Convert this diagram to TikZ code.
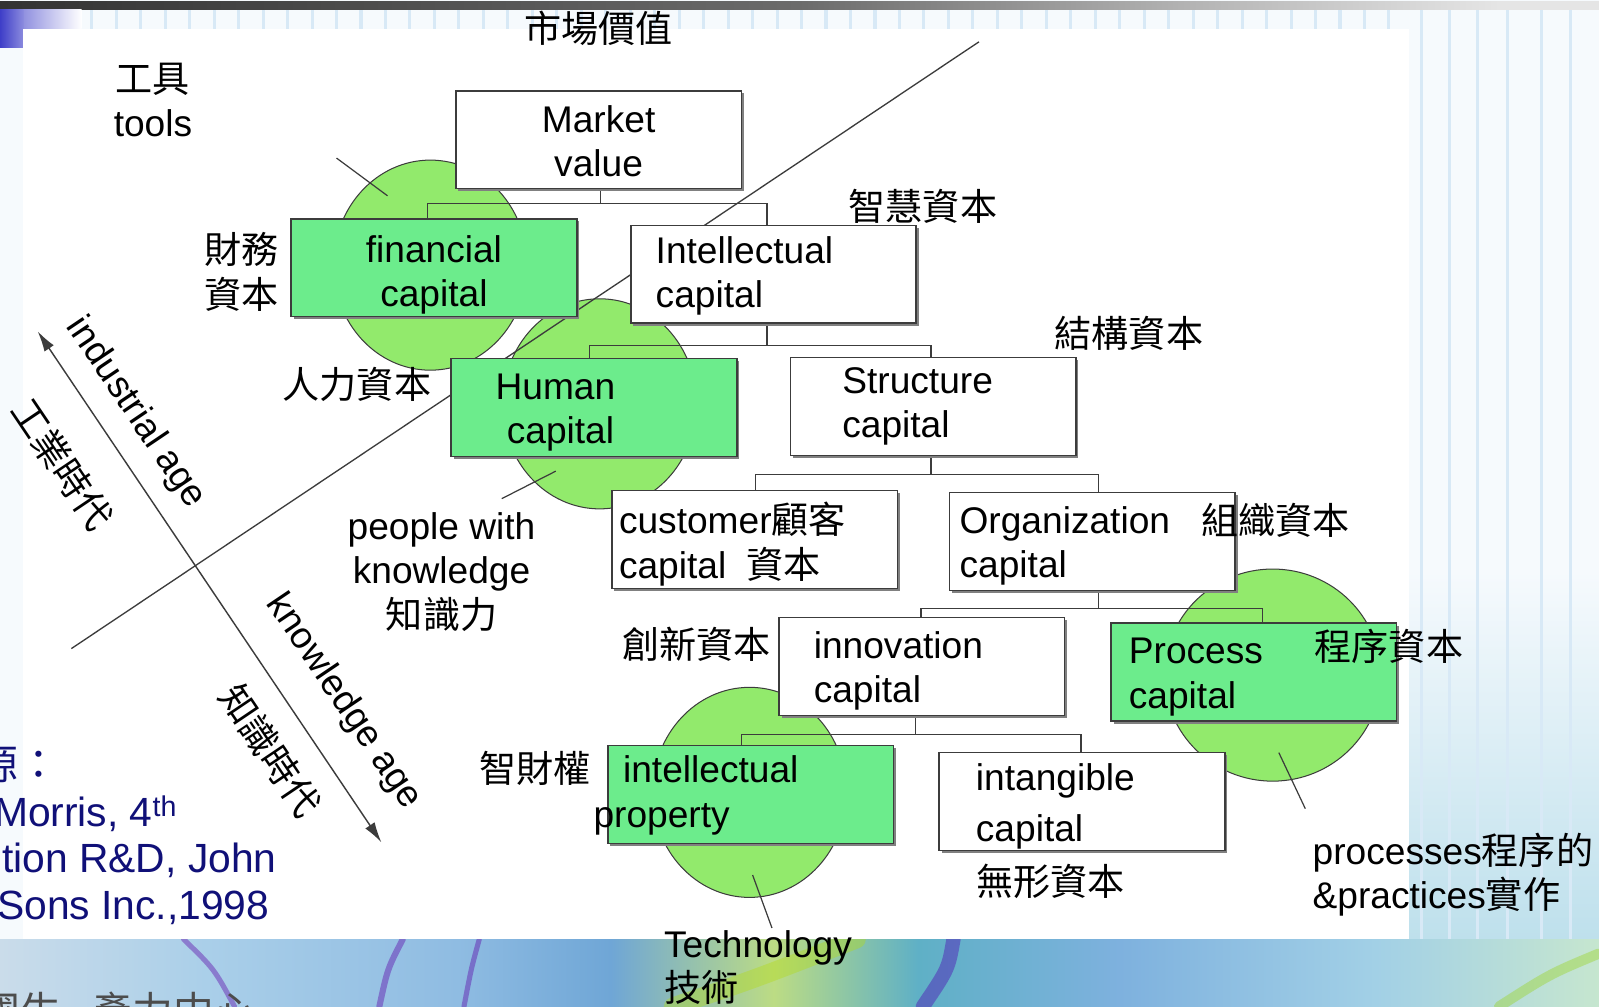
\documentclass[tikz,border=0pt]{standalone}
\usepackage{fontspec}
\setmainfont{Liberation Sans}
\newfontfamily\cjk{Noto Sans CJK TC}
\usepackage{xcolor}
\usetikzlibrary{positioning}
\usetikzlibrary{calc}
\usetikzlibrary{arrows.meta}
\usetikzlibrary{shadows}
\usetikzlibrary{shapes.geometric}
\usetikzlibrary{backgrounds}
\pgfdeclarelayer{slide}
\pgfdeclarelayer{background}
\pgfsetlayers{slide,background,main}
\definecolor{boxgreen}{RGB}{108, 236, 140}
\definecolor{blobgreen}{RGB}{146, 234, 108}
\definecolor{edgegray}{RGB}{60, 60, 60}
\definecolor{sourcenavy}{RGB}{16, 16, 120}
\definecolor{stripeblue}{RGB}{216, 233, 246}
\definecolor{slidepale}{RGB}{246, 250, 253}
\definecolor{barblue}{RGB}{62, 62, 200}
\definecolor{rightfloor}{RGB}{190, 224, 236}
\definecolor{floor0}{RGB}{202, 220, 234}
\definecolor{floor1}{RGB}{170, 207, 233}
\definecolor{floor2}{RGB}{143, 188, 226}
\definecolor{floor3}{RGB}{111, 166, 214}
\definecolor{floor4}{RGB}{188, 220, 132}
\definecolor{floor5}{RGB}{95, 176, 198}
\definecolor{floor6}{RGB}{126, 177, 222}
\definecolor{floor7}{RGB}{162, 208, 230}
\definecolor{floor8}{RGB}{198, 230, 207}
\pgfdeclarehorizontalshading{topbar}{100bp}{color(0bp)=(black!80); color(25bp)=(black!80); color(50bp)=(black!58); color(62bp)=(black!30); color(72bp)=(black!10); color(100bp)=(black!10)}
\pgfdeclarehorizontalshading{slidefloor}{100bp}{color(0bp)=(floor0); color(25bp)=(floor0); color(31.4bp)=(floor1); color(39.3bp)=(floor2); color(44.1bp)=(floor3); color(49.2bp)=(floor4); color(53.7bp)=(floor5); color(60bp)=(floor6); color(68bp)=(floor7); color(75bp)=(floor8); color(100bp)=(floor8)}
\newcommand{\lab}{\fontsize{36.4}{43.5}\selectfont}
\newcommand{\srcfont}{\fontsize{40}{46}\selectfont}
\newcommand{\zh}[1]{{\cjk #1}}
\tikzstyle{capbox} = [
    draw=edgegray,
    line width=1.6pt,
    minimum width=280pt,
    minimum height=96pt,
    inner sep=0pt,
    align=left,
    font=\lab,
    drop shadow={shadow xshift=2.5pt, shadow yshift=-2.5pt, fill=black!50, opacity=1}
]
\tikzstyle{wbox} = [capbox, fill=white]
\tikzstyle{gbox} = [capbox, fill=boxgreen]
\tikzset{firstline/.style={execute at begin node={\rule{0pt}{#1}}}}
\tikzstyle{blob} = [ellipse, draw=edgegray, line width=1pt, fill=blobgreen, inner sep=0pt, minimum width=190pt, minimum height=206pt]
\tikzstyle{txt} = [font=\lab, inner sep=0pt]
\tikzstyle{zh} = [font=\lab\cjk, inner sep=0pt]
\tikzstyle{source} = [font=\srcfont, text=sourcenavy, inner sep=0pt]
\tikzstyle{tree} = [edgegray, line width=1.4pt]
\tikzstyle{divide} = [edgegray, line width=1.3pt]
\tikzstyle{pointer} = [edgegray, line width=1.2pt]
\tikzstyle{age} = [{Latex[length=20pt, width=11pt]}-{Latex[length=20pt, width=11pt]}, line width=1.4pt, edgegray]
\tikzstyle{swoosh} = [line cap=round, opacity=0.4]

\begin{document}
\begin{tikzpicture}[x=1pt, y=-1pt]
	\useasboundingbox (0,0) rectangle (1568,987);

	%
	% Slide behind the diagram
	\begin{pgfonlayer}{slide}
		\fill[slidepale] (0,0) rectangle (1568,987);
		\shade[top color=slidepale, bottom color=rightfloor] (1382,560) rectangle (1568,921);
		\foreach \x in {1394,1421,1449,1478,1512,1540} {
			\draw[stripeblue, line width=3pt] (\x,9) -- (\x,921);
		}
		\foreach \x in {90,114,...,1380} {
			\draw[stripeblue, line width=3pt] (\x,9) -- (\x,28);
		}
		\shade[shading=slidefloor] (0,921) rectangle (1568,987);
		\draw[swoosh, line width=5pt, violet!70!blue] (230,987) .. controls (210,950) .. (180,921);
		\draw[swoosh, line width=6pt, violet!70!blue] (372,987) .. controls (380,950) .. (395,921);
		\draw[swoosh, line width=5pt, violet!70!blue] (455,987) .. controls (462,950) .. (470,921);
		\draw[swoosh, line width=18pt, yellow!70!green] (660,987) .. controls (740,960) .. (840,921);
		\draw[swoosh, line width=14pt, violet!60!blue] (905,987) .. controls (930,950) .. (935,921);
		\draw[swoosh, line width=10pt, yellow!60!green] (1470,987) .. controls (1520,955) .. (1568,935);
		\shade[shading=topbar] (0,1.5) rectangle (1568,9);
		\shade[left color=barblue!80, right color=white] (0,9) rectangle (80,28);
		\shade[left color=barblue, right color=barblue!60] (0,9) rectangle (23,47);

		% white panel
		\fill[white] (23,28) rectangle (1382,921);

		% green blobs
		\node[blob] (finblob) at (422,260) {};
		\node[blob] (humblob) at (588,396) {};
		\node[blob, minimum width=212pt, minimum height=208pt] (problob) at (1248,662) {};
		\node[blob] (ipblob) at (735,777) {};
	\end{pgfonlayer}

	%
	% Capital boxes
	\node[wbox, firstline=29.5pt, text width=200pt, align=center] (market) at (587,137) {Market\\value};
	\node[gbox, firstline=40pt, text width=200pt, align=center] (financial) at (425.5,262.5) {financial\\capital};
	\node[wbox, firstline=29.5pt, text width=231pt] (intellectual) at (758.5,269) {Intellectual\\capital};
	\node[gbox, firstline=35pt, text width=193pt] (human) at (582.5,399.5) {Human\\\hspace*{11pt}capital};
	\node[wbox, text width=178pt] (structure) at (915,398.5) {Structure\\capital};
	\node[wbox, firstline=40pt, text width=266pt] (customer) at (740,529) {customer\zh{顧客}\\capital\hspace{20pt}\zh{資本}};
	\node[wbox, firstline=35.5pt, text width=260pt] (organization) at (1071,531) {Organization\\capital};
	\node[wbox, firstline=35pt, text width=212pt] (innovation) at (904,653.5) {innovation\\capital};
	\node[gbox, firstline=35pt, text width=245pt] (process) at (1229.5,659) {Process\\capital};
	\node[gbox, firstline=28.5pt, text width=250pt] (ip) at (736,779) {intellectual\\\hspace*{-29pt}property};
	\node[wbox, firstline=35.5pt, text width=208pt] (intangible) at (1061,786) {intangible\\[6pt]capital};

	%
	% Labels
	\node[zh, above=43pt of market] (market-zh) {市場價值};
	\node[zh, left=11pt of financial, yshift=-4pt, align=center] (financial-zh) {財務\\資本};
	\node[txt, align=center] (tools) at (150,98) {\zh{工具}\\tools};
	\node[zh] (intellectual-zh) at (905,202) {智慧資本};
	\node[zh] (human-zh) at (350,377) {人力資本};
	\node[zh] (structure-zh) at (1107,327) {結構資本};
	\node[txt, align=center] (people) at (433,561) {people with\\knowledge\\\zh{知識力}};
	\node[zh] (organization-zh) at (1251,510) {組織資本};
	\node[zh] (innovation-zh) at (683,632) {創新資本};
	\node[zh] (process-zh) at (1362,634) {程序資本};
	\node[zh] (ip-zh) at (525,753) {智財權};
	\node[zh] (intangible-zh) at (1030,864) {無形資本};
	\node[txt, align=left, anchor=west] (practices) at (1287,858) {processes\zh{程序的}\\\&practices\zh{實作}};
	\node[txt, align=left, anchor=west] (technology) at (651,949) {Technology\\\zh{技術}};

	% Age remarks
	\node[txt, rotate=-56] (industrial-lab) at (133,405) {industrial age};
	\node[zh, rotate=-56] (industrial-zh) at (61,455) {工業時代};
	\node[txt, rotate=-56] (knowledge-lab) at (337,688) {knowledge age};
	\node[zh, rotate=-56] (knowledge-zh) at (265,736) {知識時代};

	% Source remark
	\node[source, anchor=west, align=left] (source) at (-22,819) {\zh{源：}\\\hspace*{16pt}Morris, 4\textsuperscript{th}\\\hspace*{24pt}tion R\&D, John\\\hspace*{19pt}Sons Inc.,1998};
	\node[font=\srcfont\cjk, text=black!70, anchor=west, inner sep=0pt] (centre-zh) at (-20,991) {國生\hspace{30pt}產力中心};

	%
	% Lines
	\coordinate (divide-top) at (960,41);
	\coordinate (divide-bottom) at (70,636);
	\coordinate (industrial-end) at (37,325);
	\coordinate (knowledge-end) at (374,826);
	\coordinate (tools-from) at (330,155);
	\coordinate (tools-to) at (380,192);
	\coordinate (people-from) at (545,462);
	\coordinate (people-to) at (492,489);
	\coordinate (technology-from) at (738,858);
	\coordinate (technology-to) at (757,910);
	\coordinate (practices-from) at (1254,738);
	\coordinate (practices-to) at (1280,793);

	\begin{scope}[on background layer]
		\draw[divide] (divide-bottom) -- (divide-top);
		\draw[age] (industrial-end) -- (knowledge-end);
		\draw[pointer] (tools-from) -- (tools-to);
		\draw[pointer] (people-from) -- (people-to);
		\draw[pointer] (technology-from) -- (technology-to);
		\draw[pointer] (practices-from) -- (practices-to);

		% Tree
		\draw[tree] ([xshift=2pt]market.south) --++ (0,-14pt);
		\draw[tree] ([xshift=-6.5pt]financial.north) |- ([yshift=-14pt]market.south) -| ([xshift=-6.5pt]intellectual.north);
		\draw[tree] ([xshift=-6.5pt]intellectual.south) --++ (0,-21pt);
		\draw[tree] ([xshift=-4.5pt]human.north) |- ([yshift=-21pt]intellectual.south) -| ([xshift=-2pt]structure.north);
		\draw[tree] ([xshift=-2pt]structure.south) --++ (0,-18pt);
		\draw[tree] ([xshift=1pt]customer.north) |- ([yshift=-18pt]structure.south) -| ([xshift=6pt]organization.north);
		\draw[tree] ([xshift=6pt]organization.south) --++ (0,-17pt);
		\draw[tree] ([xshift=-1pt]innovation.north) |- ([yshift=-17pt]organization.south) -| ([xshift=8.5pt]process.north);
		\draw[tree] ([xshift=-6pt]innovation.south) --++ (0,-18pt);
		\draw[tree] ([xshift=-9pt]ip.north) |- ([yshift=-18pt]innovation.south) -| ([xshift=-1pt]intangible.north);
	\end{scope}

\end{tikzpicture}
\end{document}
